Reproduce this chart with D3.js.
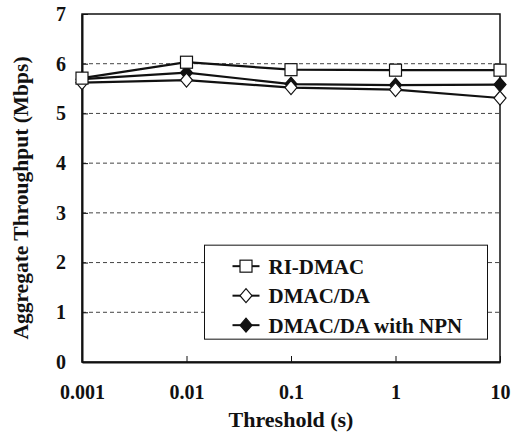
<!DOCTYPE html>
<html>
<head>
<meta charset="utf-8">
<script src="https://cdnjs.cloudflare.com/ajax/libs/d3/7.8.5/d3.min.js"></script>
<style>
  body { margin: 0; background: #fff; }
  text { font-family: "Liberation Serif", "Times New Roman", serif; font-weight: bold; fill: #111; }
</style>
</head>
<body>
<div id="chart"></div>
<script>
// data
var thresholds = [0.001, 0.01, 0.1, 1, 10];
var tickLabels = ["0.001", "0.01", "0.1", "1", "10"];
var yTicks = [0, 1, 2, 3, 4, 5, 6, 7];
var riDmac = [5.71, 6.03, 5.88, 5.87, 5.87];
var dmacDa = [5.62, 5.67, 5.52, 5.48, 5.31];
var dmacNpn = [5.69, 5.82, 5.59, 5.57, 5.58];
var seriesNames = ["RI-DMAC", "DMAC/DA", "DMAC/DA with NPN"];

var svgWidth = 522;
var svgHeight = 442;
var margin = { top: 14, right: 22, bottom: 80, left: 82 };
var width = svgWidth - margin.left - margin.right;
var height = svgHeight - margin.top - margin.bottom;

var svg = d3.select("#chart").append("svg")
  .attr("width", svgWidth)
  .attr("height", svgHeight);

var g = svg.append("g")
  .attr("transform", `translate(${margin.left}, ${margin.top})`);

var x = d3.scaleLog().domain([0.001, 10]).range([0, width]);
var y = d3.scaleLinear().domain([0, 7]).range([height, 0]);

// dashed grid lines
g.selectAll(".grid")
  .data(yTicks.filter(d => d > 0 && d < 7))
  .enter().append("line")
  .attr("x1", 0).attr("x2", width)
  .attr("y1", d => y(d)).attr("y2", d => y(d))
  .attr("stroke", "#444")
  .attr("stroke-width", 1)
  .attr("stroke-dasharray", "4,3");

// frame
g.append("rect")
  .attr("width", width).attr("height", height)
  .attr("fill", "none").attr("stroke", "#111").attr("stroke-width", 1.5);

// axes with inward ticks
var xAxis = d3.axisBottom(x).tickValues(thresholds)
  .tickFormat((d, i) => tickLabels[i]).tickSizeInner(-6).tickSizeOuter(0).tickPadding(16);
var yAxis = d3.axisLeft(y).tickValues(yTicks)
  .tickFormat(d3.format("d")).tickSizeInner(-6).tickSizeOuter(0).tickPadding(16);

var gx = g.append("g").attr("transform", `translate(0, ${height})`).call(xAxis);
var gy = g.append("g").call(yAxis);
[gx, gy].forEach(function(a) {
  a.select(".domain").attr("stroke", "#111").attr("stroke-width", 2);
  a.selectAll(".tick line").attr("stroke", "#111");
  a.selectAll(".tick text").style("font-size", "20px").attr("fill", "#111");
});
gx.selectAll(".tick text").attr("dy", "1.05em");

// axis titles
svg.append("text")
  .attr("x", margin.left + width / 2)
  .attr("y", 427)
  .attr("text-anchor", "middle")
  .style("font-size", "22px")
  .text("Threshold (s)");

svg.append("text")
  .attr("transform", `translate(28, ${margin.top + height / 2 + 10}) rotate(-90)`)
  .attr("text-anchor", "middle")
  .style("font-size", "21.5px")
  .text("Aggregate Throughput (Mbps)");

var line = d3.line()
  .x((d, i) => x(thresholds[i]))
  .y(d => y(d));

var allSeries = [riDmac, dmacDa, dmacNpn];
var symbols = ["square", "diamond", "diamond"];
var fills = ["#fff", "#fff", "#111"];

function drawMarker(sel, type, fill) {
  if (type === "square") {
    sel.append("rect")
      .attr("x", -6).attr("y", -6).attr("width", 12).attr("height", 12)
      .attr("fill", fill).attr("stroke", "#111").attr("stroke-width", 1.2);
  } else {
    sel.append("path")
      .attr("d", "M0,-7L6,0L0,7L-6,0Z")
      .attr("fill", fill).attr("stroke", "#111").attr("stroke-width", 1.2);
  }
}

allSeries.forEach(function(vals, s) {
  g.append("path")
    .datum(vals)
    .attr("d", line)
    .attr("fill", "none")
    .attr("stroke", "#111")
    .attr("stroke-width", 2.2);
});

// markers drawn after lines, open ones last so they stay visible
[2, 1, 0].forEach(function(s) {
  g.selectAll(".m" + s)
    .data(allSeries[s])
    .enter().append("g")
    .attr("transform", (d, i) => `translate(${x(thresholds[i])}, ${y(d)})`)
    .each(function() { drawMarker(d3.select(this), symbols[s], fills[s]); });
});

// legend
var legend = g.append("g").attr("transform", `translate(${x(0.01) + 18 - 0}, ${y(2.35)})`);
legend.append("rect")
  .attr("width", 283).attr("height", 94)
  .attr("fill", "#fff").attr("stroke", "#111").attr("stroke-width", 1);

seriesNames.forEach(function(name, i) {
  var row = legend.append("g").attr("transform", `translate(0, ${21 + i * 29.5})`);
  row.append("line")
    .attr("x1", 28).attr("x2", 55)
    .attr("stroke", "#111").attr("stroke-width", 2);
  var m = row.append("g").attr("transform", "translate(41.5, 0)");
  drawMarker(m, symbols[i], fills[i]);
  row.append("text")
    .attr("x", 64).attr("dy", "0.35em")
    .style("font-size", "21px")
    .text(name);
});
</script>
</body>
</html>
